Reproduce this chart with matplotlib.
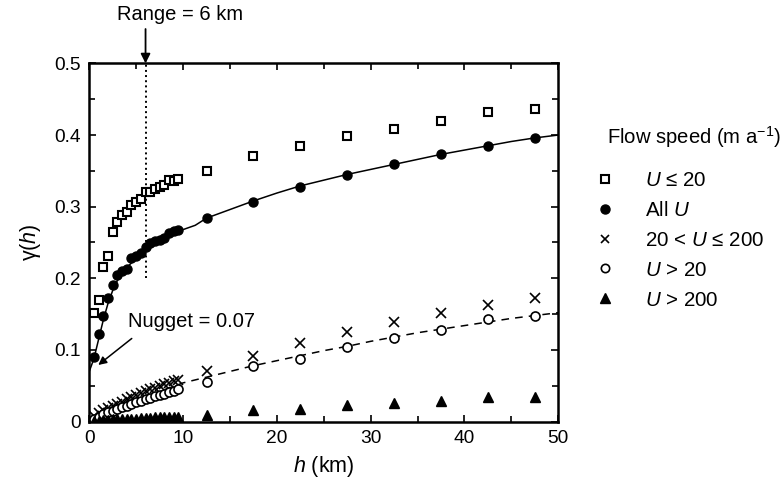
import matplotlib
matplotlib.use("Agg")
import matplotlib.pyplot as plt
from matplotlib.lines import Line2D
from matplotlib.ticker import MultipleLocator

plt.rcParams['font.family'] = ['Liberation Sans', 'DejaVu Sans']
plt.rcParams['mathtext.fontset'] = 'custom'
plt.rcParams['mathtext.rm'] = 'Liberation Sans'
plt.rcParams['mathtext.it'] = 'Liberation Sans:italic'

# lag distances (km)
h_near = [0.5, 1.0, 1.5, 2.0, 2.5, 3.0, 3.5, 4.0, 4.5, 5.0, 5.5, 6.0, 6.5, 7.0, 7.5, 8.0, 8.5, 9.0, 9.5]
h_far = [12.5, 17.5, 22.5, 27.5, 32.5, 37.5, 42.5, 47.5]

# U <= 20 (open squares)
sq_near = [0.152, 0.170, 0.216, 0.231, 0.264, 0.279, 0.288, 0.292, 0.302, 0.307, 0.311, 0.320,
           0.321, 0.324, 0.327, 0.330, 0.337, 0.336, 0.338]
sq_far = [0.350, 0.371, 0.384, 0.399, 0.409, 0.420, 0.432, 0.436]

# All U (filled circles)
all_near = [0.090, 0.122, 0.148, 0.172, 0.190, 0.205, 0.210, 0.213, 0.228, 0.231, 0.236, 0.243,
            0.249, 0.252, 0.254, 0.256, 0.263, 0.266, 0.268]
all_far = [0.284, 0.307, 0.328, 0.344, 0.359, 0.374, 0.385, 0.396]

# 20 < U <= 200 (crosses)
cr_near = [0.008, 0.012, 0.016, 0.019, 0.022, 0.025, 0.028, 0.031, 0.034, 0.037, 0.040, 0.042,
           0.045, 0.047, 0.049, 0.052, 0.054, 0.056, 0.058]
cr_far = [0.071, 0.0915, 0.109, 0.1245, 0.139, 0.151, 0.163, 0.173]

# U > 20 (open circles)
oc_near = [0.004, 0.007, 0.010, 0.013, 0.015, 0.018, 0.020, 0.022, 0.025, 0.027, 0.029, 0.031,
           0.033, 0.035, 0.037, 0.039, 0.041, 0.043, 0.045]
oc_far = [0.0556, 0.0775, 0.088, 0.1045, 0.117, 0.128, 0.143, 0.148]

# U > 200 (filled triangles)
tr_near = [0.001, 0.001, 0.002, 0.002, 0.003, 0.003, 0.003, 0.004, 0.004, 0.004, 0.005, 0.005,
           0.005, 0.006, 0.006, 0.006, 0.007, 0.007, 0.007]
tr_far = [0.009, 0.016, 0.018, 0.023, 0.026, 0.029, 0.0345, 0.034]

# fitted model curve for All U
fit_all_h = [0, 0.5, 1, 1.5, 2, 2.5, 3, 3.5, 4, 5, 6, 7, 8, 9, 10, 11.3, 12.5, 15, 17.5, 20, 22.5,
             25, 27.5, 30, 32.5, 35, 37.5, 40, 42.5, 45, 47.5, 50]
fit_all_g = [0.070, 0.088, 0.115, 0.142, 0.165, 0.183, 0.197, 0.207, 0.215, 0.228, 0.239, 0.248,
             0.255, 0.262, 0.268, 0.274, 0.284, 0.296, 0.308, 0.319, 0.329, 0.337, 0.345, 0.352,
             0.359, 0.366, 0.373, 0.379, 0.385, 0.391, 0.396, 0.400]

# fitted model curve for U > 20 (dashed)
fit_oc_h = [0, 2.5, 5, 7.5, 10, 12.5, 15, 17.5, 20, 22.5, 25, 27.5, 30, 32.5, 35, 37.5, 40, 42.5,
            45, 47.5, 50]
fit_oc_g = [0.0, 0.015, 0.029, 0.042, 0.054, 0.062, 0.070, 0.078, 0.085, 0.092, 0.099, 0.105,
            0.112, 0.118, 0.124, 0.129, 0.134, 0.139, 0.144, 0.148, 0.152]

x_ticks = [0, 10, 20, 30, 40, 50]
y_ticks = [0, 0.1, 0.2, 0.3, 0.4, 0.5]
y_ticklabels = ['0', '0.1', '0.2', '0.3', '0.4', '0.5']

labels = ["$U$ ≤ 20", "All $U$", "20 < $U$ ≤ 200", "$U$ > 20", "$U$ > 200"]

fig = plt.figure(figsize=(7.83, 4.84), dpi=100)
ax = fig.add_axes([0.114, 0.129, 0.599, 0.740])

ax.plot(fit_all_h, fit_all_g, '-', color='black', lw=1.1, zorder=2)
ax.plot(fit_oc_h, fit_oc_g, '--', color='black', lw=1.1, dashes=(5, 4), zorder=2)

ax.plot([6, 6], [0.2, 0.5], ':', color='black', lw=1.4, zorder=1)

hs = h_near + h_far
ax.plot(hs, sq_near + sq_far, 's', ms=6, mfc='white', mec='black', mew=1.5, ls='none', zorder=3)
ax.plot(hs, all_near + all_far, 'o', ms=6.5, mfc='black', mec='black', ls='none', zorder=4)
ax.plot(hs, cr_near + cr_far, 'x', ms=6.5, mec='black', mew=1.2, ls='none', zorder=3)
ax.plot(hs, oc_near + oc_far, 'o', ms=6.5, mfc='white', mec='black', mew=1.2, ls='none', zorder=3)
ax.plot(hs, tr_near + tr_far, '^', ms=7, mfc='black', mec='black', ls='none', zorder=3)

ax.set_xlim(0, 50)
ax.set_ylim(0, 0.5)
ax.set_xticks(x_ticks)
ax.xaxis.set_minor_locator(MultipleLocator(5))
ax.set_yticks(y_ticks)
ax.set_yticklabels(y_ticklabels)
ax.yaxis.set_minor_locator(MultipleLocator(0.05))
ax.tick_params(which='both', direction='in', top=True, right=True, labelsize=13.8, width=1.2)
ax.tick_params(which='major', length=5, pad=6)
ax.tick_params(which='minor', length=4)
for s in ax.spines.values():
    s.set_linewidth(1.8)

ax.set_xlabel("$h$ (km)", fontsize=15.5, labelpad=5)
ax.set_ylabel("γ($h$)", fontsize=15.5, labelpad=8)

# annotations
fig.text(180 / 783, 1 - 14 / 484, "Range = 6 km", fontsize=14.5, ha='center', va='center')
ax.annotate('', xy=(6, 0.5), xytext=(6, 0.548), xycoords='data', annotation_clip=False,
            arrowprops=dict(arrowstyle='-|>', color='black', lw=1.3, mutation_scale=14,
                            shrinkA=0, shrinkB=0))
ax.text(4.13, 0.139, "Nugget = 0.07", fontsize=14.5, ha='left', va='center')
ax.annotate('', xy=(0.96, 0.079), xytext=(4.53, 0.116),
            arrowprops=dict(arrowstyle='-|>', color='black', lw=1.1, mutation_scale=12,
                            shrinkA=0, shrinkB=0))

# legend
fig.text(607 / 783, 1 - 137 / 484, "Flow speed (m a$^{-1}$)", fontsize=14.6, ha='left', va='center')
handles = [
    Line2D([], [], marker='s', ms=5.5, mfc='white', mec='black', mew=1.5, ls='none'),
    Line2D([], [], marker='o', ms=6.5, mfc='black', mec='black', ls='none'),
    Line2D([], [], marker='x', ms=6, mec='black', mew=1.2, ls='none'),
    Line2D([], [], marker='o', ms=6, mfc='white', mec='black', mew=1.2, ls='none'),
    Line2D([], [], marker='^', ms=7, mfc='black', mec='black', ls='none'),
]
fig.legend(handles, labels, loc='upper left', bbox_to_anchor=(594.7 / 783, 1 - 171 / 484),
           frameon=False, fontsize=14.8, handlelength=1.0, handletextpad=1.44,
           labelspacing=0.53, borderpad=0, borderaxespad=0)

fig.savefig("out.png", dpi=100)
